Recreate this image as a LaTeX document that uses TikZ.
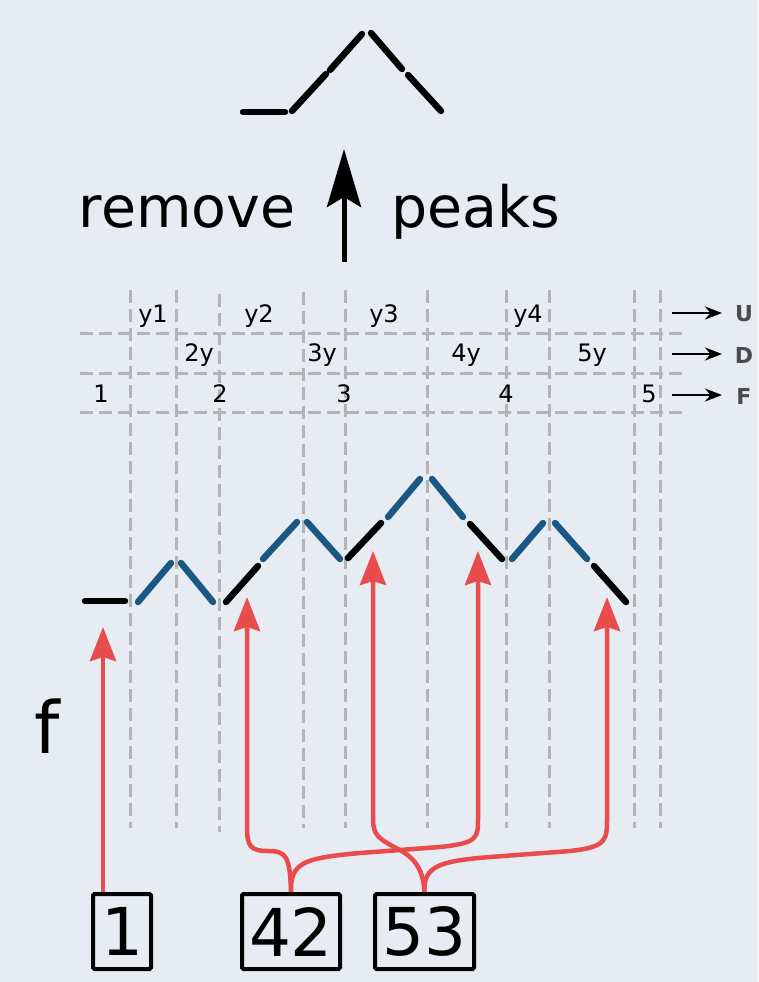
\documentclass[tikz,border=0pt]{standalone}
\usepackage{fontspec}
\setmainfont{DejaVu Sans}
\usetikzlibrary{arrows.meta}
\definecolor{bg}{RGB}{230,236,242}
\definecolor{gridc}{RGB}{180,180,180}
\definecolor{pathblue}{RGB}{26,88,130}
\definecolor{arrred}{RGB}{232,76,77}
\definecolor{lblgray}{RGB}{75,75,75}
\begin{document}
\begin{tikzpicture}[x=1pt,y=-1pt,
  gridline/.style={draw=gridc, line width=3pt, dash pattern=on 13pt off 6pt},
  seg/.style={line width=6.5pt, line cap=round},
  blk/.style={seg, draw=black},
  blu/.style={seg, draw=pathblue},
  redarr/.style={draw=arrred, line width=4.5pt, -{Stealth[length=34pt,width=26pt,inset=4pt]}},
  lbl/.style={font=\fontsize{24}{24}\selectfont, inner sep=0pt},
  rowarr/.style={draw=black, line width=2.4pt, -{Stealth[length=17pt,width=13pt]}},
  side/.style={font=\bfseries\fontsize{22}{22}\selectfont, text=lblgray, inner sep=0pt},
  numbox/.style={draw=black, line width=4pt, rounded corners=1.5pt, minimum height=75pt, font=\fontsize{66}{66}\selectfont, inner sep=0pt},
  big/.style={font=\fontsize{57}{57}\selectfont, inner sep=0pt}
]
\fill[bg] (0,0) rectangle (758,982);
\useasboundingbox (0,0) rectangle (758,982);

% top result
\draw[blk] (243,112) -- (285,112);
\draw[blk] (292,111) -- (326,74);
\draw[blk] (330,70) -- (362,34);
\draw[blk] (371,33) -- (402,69);
\draw[blk] (408,75) -- (441,111);

% remove peaks
\node[big] (remove) at (187,212) {remove};
\node[big] (peaks) at (476,212) {peaks};
\coordinate (upbot) at (344,262);
\coordinate (uptop) at (344,149);
\draw[line width=5pt, -{Stealth[length=58pt,width=34pt,inset=10pt]}] (upbot) -- (uptop);

% grid
\foreach \x/\t/\b in {130/290/828,176/290/828,219/294/832,303/292/828,345/290/828,427/290/828,506/290/828,549/290/828,634/290/828,660/290/828}
  \draw[gridline] (\x,\t) -- (\x,\b);
\foreach \y in {333,373,412}
  \draw[gridline] (80,\y) -- (682,\y);

% labels
\foreach \x/\s in {153/y1,259/y2,384/y3,528/y4}
  \node[lbl] at (\x,316) {\s};
\foreach \x/\s in {199/2y,322/3y,466/4y,592/5y}
  \node[lbl] at (\x,355) {\s};
\foreach \x/\s in {101/1,220/2,344/3,506/4,649/5}
  \node[lbl] at (\x,394) {\s};

% row arrows
\node[side] (U) at (744,314) {U};
\node[side] (D) at (744,355) {D};
\node[side] (F) at (744,396) {F};
\coordinate (ua) at (672,313);
\coordinate (da) at (672,354);
\coordinate (fa) at (672,395);
\coordinate (ue) at (722,313);
\coordinate (de) at (722,354);
\coordinate (fe) at (722,395);
\draw[rowarr] (ua) -- (ue);
\draw[rowarr] (da) -- (de);
\draw[rowarr] (fa) -- (fe);

% path
\draw[blk] (85,601) -- (125,601);
\draw[blu] (138,602) -- (171,563);
\draw[blu] (181,563) -- (213,602);
\draw[blk] (226,602) -- (258,566);
\draw[blu] (263,559) -- (297,522);
\draw[blu] (307,522) -- (340,559);
\draw[blk] (348,558) -- (381,523);
\draw[blu] (388,517) -- (420,479);
\draw[blu] (432,479) -- (463,517);
\draw[blk] (470,524) -- (502,559);
\draw[blu] (512,559) -- (543,523);
\draw[blu] (555,523) -- (587,559);
\draw[blk] (594,566) -- (626,602);

% f
\node[font=\fontsize{72}{72}\selectfont, inner sep=0pt] (f) at (47,726) {f};

% boxes
\node[numbox, minimum width=58pt] (b1) at (122,931.5) {1};
\node[numbox, minimum width=98pt] (b42) at (291,931.5) {42};
\node[numbox, minimum width=99pt] (b53) at (424.5,931.5) {53};

% red arrows
\coordinate (t1) at (103,627);
\coordinate (t2) at (247,597);
\coordinate (t3) at (478,551);
\coordinate (t4) at (373,551);
\coordinate (t5) at (607,597);
\draw[redarr] (b1.north -| t1) -- (t1);
\draw[redarr] (b42.north) .. controls (290,856) and (286,851) .. (268,851)
  .. controls (250,851) and (247,846) .. (247,826) -- (t2);
\draw[redarr] (b42.north) .. controls (290,862) and (305,858) .. (360,853)
  -- (440,847) .. controls (478,843) and (478,838) .. (478,818) -- (t3);
\draw[redarr] (b53.north) .. controls (423,866) and (412,856) .. (396,848)
  .. controls (377,838) and (373,834) .. (373,818) -- (t4);
\draw[redarr] (b53.north) .. controls (423,866) and (440,861) .. (490,857)
  -- (570,851) .. controls (607,847) and (607,840) .. (607,818) -- (t5);
\end{tikzpicture}
\end{document}
